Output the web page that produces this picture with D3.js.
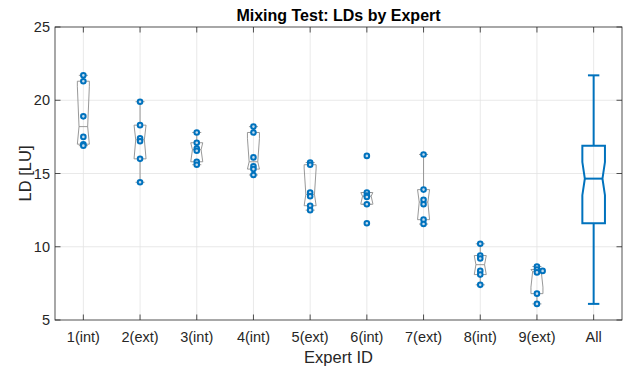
<!DOCTYPE html>
<html>
<head>
<meta charset="utf-8">
<script src="https://cdn.jsdelivr.net/npm/d3@7"></script>
<style>
  body { margin: 0; background: #fff; }
  svg { display: block; font-family: "Liberation Sans", Arial, Helvetica, sans-serif; }
</style>
</head>
<body>
<div id="chart"></div>
<script>
const width = 624;
const height = 371;

// data
const experts = ['1(int)', '2(ext)', '3(int)', '4(int)', '5(ext)', '6(int)', '7(ext)', '8(int)', '9(ext)'];
const allLabel = 'All';
const ldValues = [
  [21.7, 21.3, 18.9, 17.5, 17.0, 16.9],
  [19.9, 18.3, 17.4, 17.2, 16.0, 14.4],
  [17.8, 17.1, 16.7, 16.55, 15.8, 15.6],
  [18.2, 17.8, 16.1, 15.5, 15.3, 14.9],
  [15.75, 15.6, 13.7, 13.45, 12.8, 12.5],
  [16.2, 13.7, 13.5, 13.4, 12.9, 11.6],
  [16.3, 13.9, 13.2, 12.9, 11.85, 11.55],
  [10.2, 9.4, 9.2, 8.35, 8.1, 7.4],
  [8.65, 8.45, 8.35, 8.25, 6.8, 6.1]
];
// horizontal jitter of the scatter points (category units)
const jitter = [
  [0, 0, 0, 0, 0, 0],
  [0, 0, 0, 0, 0, 0],
  [0, 0, 0, 0, 0, 0],
  [0, 0, 0, 0, 0, 0],
  [0, 0, 0, 0, 0, 0],
  [0, 0, 0, 0, 0, 0],
  [0, 0, 0, 0, 0, 0],
  [0, 0, 0, 0, 0, 0],
  [0, 0, 0.1, 0, 0, 0]
];
const yTicks = [5, 10, 15, 20, 25];

const margin = {top: 27, right: 2, bottom: 51, left: 55};
const axisColor = '#262626';
const gridColor = '#e3e3e3';
const blue = '#0072BD';

const svg = d3.select('#chart').append('svg')
  .attr('width', width)
  .attr('height', height);

const categories = [...experts, allLabel];
const x = d3.scaleLinear()
  .domain([0.5, categories.length + 0.5])
  .range([margin.left, width - margin.right]);
const y = d3.scaleLinear()
  .domain([5, 25])
  .range([height - margin.bottom, margin.top]);

// matlab style prctile
const prctile = (sorted, p) => {
  const n = sorted.length;
  const pos = p / 100 * n + 0.5;
  if (pos <= 1) return sorted[0];
  if (pos >= n) return sorted[n - 1];
  const i = Math.floor(pos);
  const f = pos - i;
  return sorted[i - 1] + f * (sorted[i] - sorted[i - 1]);
};

const boxStats = vals => {
  const s = vals.slice().sort(d3.ascending);
  const q1 = prctile(s, 25), med = prctile(s, 50), q3 = prctile(s, 75);
  const iqr = q3 - q1;
  const lo = d3.min(s.filter(v => v >= q1 - 1.5 * iqr));
  const hi = d3.max(s.filter(v => v <= q3 + 1.5 * iqr));
  const nd = 1.57 * iqr / Math.sqrt(s.length);
  return {q1, med, q3, lo, hi, nlo: Math.max(med - nd, q1), nhi: Math.min(med + nd, q3)};
};

const stats = ldValues.map(boxStats);
stats.push(boxStats(ldValues.flat()));

// grid
const grid = svg.append('g').attr('stroke', gridColor).attr('stroke-width', 0.8);
grid.selectAll('.gy').data(yTicks.slice(1, -1)).join('line')
  .attr('x1', margin.left).attr('x2', width - margin.right)
  .attr('y1', d => y(d)).attr('y2', d => y(d));
grid.selectAll('.gx').data(categories).join('line')
  .attr('x1', (d, i) => x(i + 1)).attr('x2', (d, i) => x(i + 1))
  .attr('y1', margin.top).attr('y2', height - margin.bottom);

// boxes
const drawBox = (g, st, cx, opt) => {
  const {hw, nf, cap, color, sw} = opt;
  const line = d3.line();
  const pts = [
    [cx - hw, y(st.q1)], [cx - hw, y(st.nlo)], [cx - hw * nf, y(st.med)], [cx - hw, y(st.nhi)], [cx - hw, y(st.q3)],
    [cx + hw, y(st.q3)], [cx + hw, y(st.nhi)], [cx + hw * nf, y(st.med)], [cx + hw, y(st.nlo)], [cx + hw, y(st.q1)]
  ];
  g.append('path').attr('d', line(pts) + 'Z')
    .attr('fill', 'none').attr('stroke', color).attr('stroke-width', sw);
  g.append('line').attr('x1', cx - hw * nf).attr('x2', cx + hw * nf)
    .attr('y1', y(st.med)).attr('y2', y(st.med))
    .attr('stroke', color).attr('stroke-width', sw);
  [[st.q3, st.hi], [st.q1, st.lo]].forEach(([a, b]) => {
    g.append('line').attr('x1', cx).attr('x2', cx).attr('y1', y(a)).attr('y2', y(b))
      .attr('stroke', color).attr('stroke-width', sw);
    g.append('line').attr('x1', cx - cap).attr('x2', cx + cap).attr('y1', y(b)).attr('y2', y(b))
      .attr('stroke', color).attr('stroke-width', sw);
  });
};

const boxes = svg.append('g');
stats.forEach((st, i) => {
  const isAll = i === stats.length - 1;
  drawBox(boxes, st, x(i + 1), isAll
    ? {hw: 11.3, nf: 0.78, cap: 5.7, color: blue, sw: 2}
    : {hw: 6, nf: 0.72, cap: 4.5, color: '#8c8c8c', sw: 0.9});
});

// scatter points
const points = ldValues.flatMap((vals, i) => vals.map((v, j) => ({v, cx: i + 1 + jitter[i][j]})));
svg.append('g').selectAll('circle').data(points).join('circle')
  .attr('cx', d => x(d.cx))
  .attr('cy', d => y(d.v))
  .attr('r', 2.3)
  .attr('fill', '#c4dcef')
  .attr('stroke', blue)
  .attr('stroke-width', 2);

// axes frame and ticks
const x0 = margin.left, x1 = width - margin.right;
const y0 = height - margin.bottom, y1 = margin.top;
const tl = 5.5;
const ax = svg.append('g').attr('stroke', axisColor).attr('stroke-width', 0.8);
ax.append('rect').attr('x', x0).attr('y', y1).attr('width', x1 - x0).attr('height', y0 - y1).attr('fill', 'none');
yTicks.forEach(t => {
  ax.append('line').attr('x1', x0).attr('x2', x0 + tl).attr('y1', y(t)).attr('y2', y(t));
  ax.append('line').attr('x1', x1).attr('x2', x1 - tl).attr('y1', y(t)).attr('y2', y(t));
});
categories.forEach((c, i) => {
  ax.append('line').attr('x1', x(i + 1)).attr('x2', x(i + 1)).attr('y1', y0).attr('y2', y0 - tl);
  ax.append('line').attr('x1', x(i + 1)).attr('x2', x(i + 1)).attr('y1', y1).attr('y2', y1 + tl);
});

// tick labels
svg.append('g').selectAll('text').data(yTicks).join('text')
  .attr('x', x0 - 5).attr('y', d => y(d)).attr('dy', '0.36em')
  .attr('text-anchor', 'end').attr('font-size', 14.5).attr('fill', axisColor)
  .text(d => d);
svg.append('g').selectAll('text').data(categories).join('text')
  .attr('x', (d, i) => x(i + 1)).attr('y', y0 + 22)
  .attr('text-anchor', 'middle').attr('font-size', 14.5).attr('fill', axisColor)
  .text(d => d);

// labels
svg.append('text').attr('x', (x0 + x1) / 2).attr('y', 363)
  .attr('text-anchor', 'middle').attr('font-size', 16.5).attr('fill', axisColor)
  .text('Expert ID');
svg.append('text').attr('transform', `translate(31,${(y0 + y1) / 2}) rotate(-90)`)
  .attr('text-anchor', 'middle').attr('font-size', 16.5).attr('fill', axisColor)
  .text('LD [LU]');
svg.append('text').attr('x', (x0 + x1) / 2).attr('y', 21)
  .attr('text-anchor', 'middle').attr('font-size', 16).attr('font-weight', 'bold').attr('fill', '#000')
  .text('Mixing Test: LDs by Expert');
</script>
</body>
</html>
